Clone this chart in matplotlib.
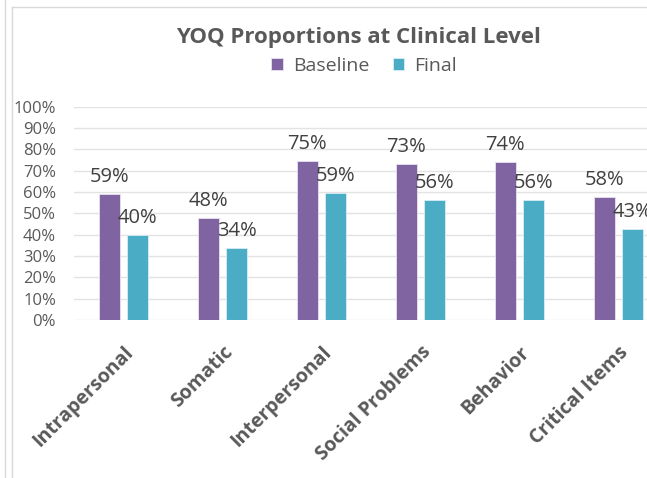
import matplotlib.pyplot as plt
import numpy as np
from matplotlib.lines import Line2D

plt.rcParams['font.family'] = ['Open Sans', 'DejaVu Sans']

categories = ["Intrapersonal", "Somatic", "Interpersonal", "Social Problems",
              "Behavior", "Critical Items"]
baseline = [0.592, 0.478, 0.746, 0.732, 0.740, 0.576]
final = [0.398, 0.339, 0.594, 0.561, 0.561, 0.428]
yticks = np.arange(0, 1.01, 0.1)

purple = "#8064A2"
teal = "#4BACC6"
grey = "#595959"

fig = plt.figure(figsize=(6.47, 4.78), dpi=100)
# plot area runs past the right edge, like the cropped screenshot
ax = fig.add_axes([74 / 647, 158 / 478, 594 / 647, 213.5 / 478])

x = np.arange(len(categories))
w = 0.217
off = 0.143
b1 = ax.bar(x - off, baseline, w, color=purple, edgecolor="#e8e0f0", linewidth=0.6,
            label="Baseline", zorder=3)
b2 = ax.bar(x + off, final, w, color=teal, edgecolor="#d8eef4", linewidth=0.6,
            label="Final", zorder=3)

for bars in (b1, b2):
    ax.bar_label(bars, labels=[f"{round(v * 100):.0f}%" for v in bars.datavalues],
                 padding=5, fontsize=14.5, color="#404040")

ax.set_xlim(-0.5, len(categories) - 0.5)
ax.set_ylim(0, 1)
ax.set_yticks(yticks)
ax.set_yticklabels([f"{t * 100:.0f}%" for t in yticks], fontsize=12, color=grey)
ax.grid(axis="y", color="#e3e3e3", linewidth=1, zorder=0)
ax.tick_params(axis="both", length=0)
ax.tick_params(axis="y", pad=13)
for s in ax.spines.values():
    s.set_visible(False)

ax.set_xticks(x)
ax.set_xticklabels(categories, rotation=45, ha="right", rotation_mode="anchor",
                   fontsize=14, fontweight="bold", color=grey)
ax.tick_params(axis="x", pad=16)

fig.text(358 / 647, 1 - 37 / 478, "YOQ Proportions at Clinical Level",
         ha="center", va="center", fontsize=16, fontweight="bold", color=grey)
fig.legend(handles=[b1, b2], loc="center", bbox_to_anchor=(364 / 647, 1 - 66 / 478),
           ncol=2, frameon=False, fontsize=14, handlelength=0.6, handleheight=0.6,
           handletextpad=0.5, columnspacing=1.2, labelcolor=grey)

# thin frame lines from the screenshot
fig.add_artist(Line2D([5 / 647, 5 / 647], [0, 1], color="#d9d9d9", lw=1))
fig.add_artist(Line2D([12 / 647, 12 / 647], [0, 1 - 7 / 478], color="#d9d9d9", lw=1))
fig.add_artist(Line2D([12 / 647, 1], [1 - 7 / 478, 1 - 7 / 478], color="#d9d9d9", lw=1))

fig.savefig("out.png", dpi=100)
